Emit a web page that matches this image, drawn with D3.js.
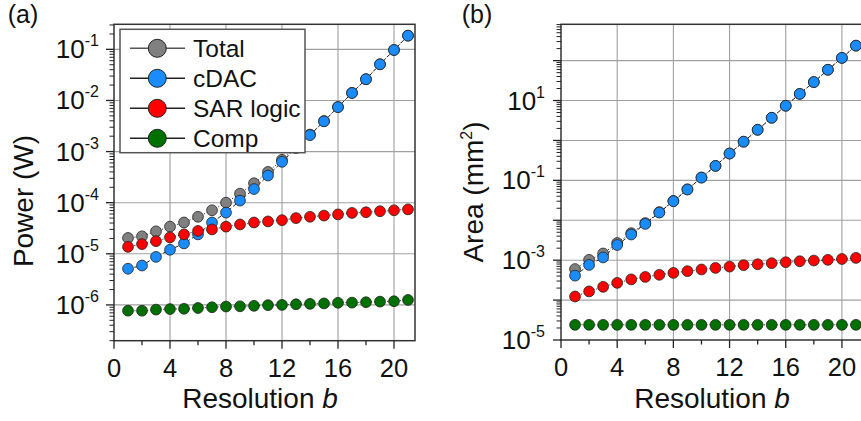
<!DOCTYPE html>
<html><head><meta charset="utf-8">
<script src="https://cdn.jsdelivr.net/npm/d3@7"></script>
<style>
html,body{margin:0;padding:0;background:#fff;overflow:hidden}
svg{display:block;font-family:"Liberation Sans",Arial,sans-serif}
</style></head>
<body><svg id="c" width="861" height="421"></svg>
<script>
const bits = d3.range(1, 22);
const seriesNames = ["Total", "cDAC", "SAR logic", "Comp"];
const seriesColors = ["#808080", "#1a8cff", "#ff0000", "#007000"];
const xTickValues = [0, 4, 8, 12, 16, 20];
const yExpA = [-1, -2, -3, -4, -5, -6];
const yExpB = [1, -1, -3, -5];

const powerTotal = [2.04e-5,2.2e-5,2.75e-5,3.4e-5,4.1e-5,5.3e-5,7.1e-5,1.0e-4,1.5e-4,2.4e-4,4.0e-4,6.9e-4,1.22e-3,2.15e-3,3.96e-3,7.46e-3,1.41e-2,2.61e-2,5.11e-2,9.71e-2,0.185];
const powerCDAC = [5.1e-6,5.9e-6,8.7e-6,1.2e-5,1.6e-5,2.4e-5,4.1e-5,6.4e-5,1.1e-4,1.85e-4,3.4e-4,6.3e-4,1.17e-3,2.1e-3,3.9e-3,7.4e-3,1.4e-2,2.6e-2,5.1e-2,9.7e-2,0.185];
const powerSAR = [1.37e-5,1.55e-5,1.77e-5,2.1e-5,2.4e-5,2.8e-5,3.0e-5,3.4e-5,3.75e-5,4.1e-5,4.3e-5,4.55e-5,5.0e-5,5.3e-5,5.6e-5,5.9e-5,6.3e-5,6.5e-5,6.8e-5,7.1e-5,7.4e-5];
const powerComp = [7.7e-7,7.7e-7,8.1e-7,8.3e-7,8.4e-7,8.7e-7,9.0e-7,9.3e-7,9.4e-7,9.6e-7,9.9e-7,1.0e-6,1.03e-6,1.05e-6,1.07e-6,1.1e-6,1.11e-6,1.13e-6,1.16e-6,1.18e-6,1.25e-6];

const areaTotal = [6.0e-4,1.02e-3,1.47e-3,2.7e-3,4.75e-3,8.5e-3,1.6e-2,3.05e-2,5.95e-2,0.118,0.231,0.47,0.93,1.85,3.7,7.4,14.7,29,59,117,237];
const areaCDAC = [4.1e-4,7.6e-4,1.17e-3,2.4e-3,4.4e-3,8.1e-3,1.56e-2,3.0e-2,5.9e-2,0.117,0.23,0.47,0.93,1.85,3.7,7.4,14.7,29,59,117,237];
const areaSAR = [1.23e-4,1.65e-4,2.15e-4,2.7e-4,3.3e-4,3.8e-4,4.3e-4,4.8e-4,5.3e-4,5.85e-4,6.4e-4,6.9e-4,7.5e-4,7.9e-4,8.4e-4,8.9e-4,9.4e-4,9.8e-4,1.02e-3,1.07e-3,1.14e-3];
const areaComp = [2.4e-5,2.4e-5,2.4e-5,2.4e-5,2.4e-5,2.4e-5,2.4e-5,2.4e-5,2.4e-5,2.4e-5,2.4e-5,2.4e-5,2.4e-5,2.4e-5,2.4e-5,2.4e-5,2.4e-5,2.4e-5,2.4e-5,2.4e-5,2.4e-5];

const svg = d3.select("#c");

function panel(cfg) {
  const g = svg.append("g");
  const x = d3.scaleLinear().domain([0, 21.5]).range([cfg.left, cfg.right]);
  const y = d3.scaleLog().domain(cfg.ydom).range([cfg.bottom, cfg.top]);
  const [lo, hi] = cfg.ydom;
  const e0 = Math.floor(Math.log10(lo)), e1 = Math.ceil(Math.log10(hi));
  const majors = [], minors = [];
  for (let e = e0; e <= e1; e++) {
    for (let m = 1; m <= 9; m++) {
      const v = m * Math.pow(10, e);
      if (v < lo * 0.999 || v > hi * 1.001) continue;
      (m === 1 ? majors : minors).push(v);
    }
  }
  const gridX = xTickValues.filter(d => d > 0);
  g.selectAll(".gx").data(gridX).join("line")
    .attr("x1", d => x(d)).attr("x2", d => x(d))
    .attr("y1", cfg.top).attr("y2", cfg.bottom)
    .attr("stroke", "#a0a0a0").attr("stroke-width", 1.1);
  g.selectAll(".gy").data(majors.filter(v => y(v) < cfg.bottom - 1)).join("line")
    .attr("x1", cfg.left).attr("x2", cfg.right)
    .attr("y1", d => y(d)).attr("y2", d => y(d))
    .attr("stroke", "#a0a0a0").attr("stroke-width", 1.1);

  const line = d3.line().x((d, i) => x(bits[i])).y(d => y(d));
  const dashes = ["1.2,2", "4,2.5", "1.2,2", "1.2,2"];
  cfg.series.forEach((s, k) => {
    g.append("path").datum(s).attr("d", line).attr("fill", "none")
      .attr("stroke", k === 1 ? "#222" : "#333").attr("stroke-width", 1)
      .attr("stroke-dasharray", dashes[k]);
  });
  cfg.series.forEach((s, k) => {
    g.selectAll(".p" + k).data(s).join("circle")
      .attr("cx", (d, i) => x(bits[i])).attr("cy", d => y(d)).attr("r", 5.4)
      .attr("fill", seriesColors[k]).attr("stroke", "#222").attr("stroke-width", 0.8);
  });

  g.append("rect").attr("x", cfg.left).attr("y", cfg.top)
    .attr("width", cfg.right - cfg.left).attr("height", cfg.bottom - cfg.top)
    .attr("fill", "none").attr("stroke", "#333").attr("stroke-width", 1.5);

  const xt = d3.range(0, 22, 2);
  g.selectAll(".xt").data(xt).join("line")
    .attr("x1", d => x(d)).attr("x2", d => x(d))
    .attr("y1", cfg.bottom).attr("y2", d => cfg.bottom + (d % 4 === 0 ? 8 : 4.5))
    .attr("stroke", "#222").attr("stroke-width", 1.3);
  g.selectAll(".xl").data(xTickValues).join("text")
    .attr("x", d => x(d)).attr("y", cfg.bottom + 36)
    .attr("text-anchor", "middle").attr("font-size", 25.5).attr("fill", "#111")
    .text(d => d);

  g.selectAll(".ym").data(majors).join("line")
    .attr("x1", cfg.left - 8).attr("x2", cfg.left)
    .attr("y1", d => y(d)).attr("y2", d => y(d))
    .attr("stroke", "#222").attr("stroke-width", 1.3);
  g.selectAll(".yn").data(minors).join("line")
    .attr("x1", cfg.left - 4.5).attr("x2", cfg.left)
    .attr("y1", d => y(d)).attr("y2", d => y(d))
    .attr("stroke", "#222").attr("stroke-width", 1);
  const yl = g.selectAll(".yl").data(cfg.labels).join("text")
    .attr("x", cfg.left - cfg.labelGap).attr("y", d => y(Math.pow(10, d)) + 9)
    .attr("text-anchor", "end").attr("font-size", 26).attr("fill", "#111");
  yl.append("tspan").text("10");
  yl.append("tspan").attr("dy", -12).attr("font-size", 16).text(d => d);

  const xtitle = g.append("text").attr("x", cfg.xtitleX).attr("y", 408)
    .attr("text-anchor", "middle").attr("font-size", 28).attr("fill", "#111");
  xtitle.append("tspan").text("Resolution ");
  xtitle.append("tspan").attr("font-style", "italic").text("b");

  const yt = g.append("text")
    .attr("transform", `translate(${cfg.ytitleX},${cfg.ytitleY}) rotate(-90)`)
    .attr("text-anchor", "middle").attr("font-size", 28).attr("fill", "#111");
  cfg.ytitle(yt);

  svg.append("text").attr("x", cfg.tagX).attr("y", 23).attr("text-anchor", "middle")
    .attr("font-size", 25).attr("fill", "#111").text(cfg.tag);
  return {g, x, y};
}

const A = panel({
  left: 114, right: 415, top: 24.3, bottom: 340.7,
  ydom: [Math.pow(10, -6.7), Math.pow(10, -0.51)],
  series: [powerTotal, powerCDAC, powerSAR, powerComp],
  labels: yExpA, labelGap: 15,
  xtitleX: 260, ytitleX: 33, ytitleY: 201,
  ytitle: t => t.text("Power (W)"),
  tag: "(a)", tagX: 23
});

const B = panel({
  left: 561, right: 863, top: 24.3, bottom: 340,
  ydom: [1e-5, Math.pow(10, 2.91)],
  series: [areaTotal, areaCDAC, areaSAR, areaComp],
  labels: yExpB, labelGap: 16,
  xtitleX: 712, ytitleX: 483, ytitleY: 192,
  ytitle: t => { t.append("tspan").text("Area (mm");
                 t.append("tspan").attr("dy", -11).attr("font-size", 16).text("2");
                 t.append("tspan").attr("dy", 11).text(")"); },
  tag: "(b)", tagX: 477
});

const lg = svg.append("g");
lg.append("rect").attr("x", 120).attr("y", 29.3).attr("width", 185).attr("height", 123.4)
  .attr("fill", "#fff").attr("stroke", "#555").attr("stroke-width", 1.5);
const rowY = d3.scaleLinear().domain([0, 3]).range([48.3, 138.3]);
seriesNames.forEach((name, k) => {
  const yy = rowY(k);
  lg.append("line").attr("x1", 130).attr("x2", 185).attr("y1", yy).attr("y2", yy)
    .attr("stroke", k === 0 ? "#555" : "#222").attr("stroke-width", 1.5);
  lg.append("circle").attr("cx", 157.3).attr("cy", yy).attr("r", 9)
    .attr("fill", seriesColors[k]).attr("stroke", "#222").attr("stroke-width", 1);
  lg.append("text").attr("x", 193).attr("y", yy + 8.5).attr("font-size", 24.5)
    .attr("fill", "#111").text(name);
});
</script></body></html>
